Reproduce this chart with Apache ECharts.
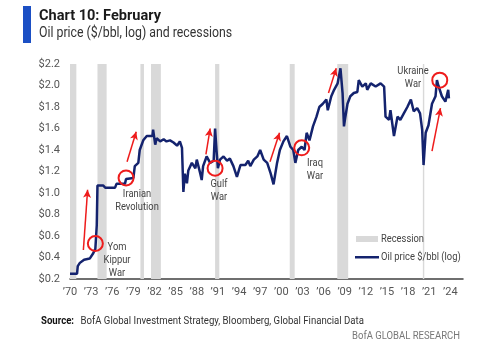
<!DOCTYPE html>
<html>
<head>
<meta charset="utf-8">
<script src="https://cdn.jsdelivr.net/npm/echarts@6/dist/echarts.min.js"></script>
<style>
  html, body { margin: 0; padding: 0; background: #fff; }
  #chart { width: 500px; height: 351px; }
</style>
</head>
<body>
<div id="chart"></div>
<script>
// base year: x axis is years since 1970 so the 3-year ticks start on min
var baseYear = 1970

// oil price (log scale value)
var priceYears = [
  1970.0, 1971.0, 1971.1, 1971.4, 1972.0, 1972.8, 1973.3, 1973.6, 1973.8, 1973.9,
  1974.7, 1975.0, 1976.4, 1976.6, 1977.8, 1977.96, 1979.0, 1979.2, 1979.7, 1979.9,
  1980.4, 1980.9, 1981.7, 1981.8, 1982.1, 1982.3, 1982.8, 1983.3, 1983.7, 1984.2,
  1984.7, 1985.2, 1985.6, 1985.9, 1986.1, 1986.3, 1986.6, 1986.8, 1987.3, 1987.8,
  1988.0, 1988.5, 1988.7, 1988.9, 1989.4, 1989.9, 1990.4, 1990.6, 1990.8, 1991.0,
  1991.3, 1991.8, 1992.3, 1992.7, 1993.2, 1993.7, 1994.2, 1994.9, 1995.3, 1995.6,
  1996.1, 1996.6, 1997.0, 1997.5, 1998.0, 1998.5, 1998.9, 1999.1, 1999.4, 1999.8,
  2000.3, 2000.8, 2001.3, 2001.7, 2002.0, 2002.4, 2002.9, 2003.3, 2003.6, 2004.0,
  2004.5, 2005.0, 2005.4, 2005.9, 2006.4, 2006.6, 2007.1, 2007.5, 2008.0, 2008.4,
  2008.7, 2008.9, 2009.1, 2009.4, 2009.8, 2010.3, 2010.8, 2011.0, 2011.5, 2012.0,
  2012.2, 2012.7, 2013.4, 2014.1, 2014.6, 2014.8, 2015.3, 2015.5, 2016.0, 2016.5,
  2016.9, 2017.4, 2017.9, 2018.4, 2018.8, 2019.3, 2019.7, 2020.0, 2020.2, 2020.5,
  2020.9, 2021.4, 2021.9, 2022.1, 2022.3, 2022.8, 2023.3, 2023.7, 2023.8
]
var priceValues = [
  0.25, 0.25, 0.32, 0.35, 0.38, 0.39, 0.44, 0.48, 0.70, 1.07,
  1.07, 1.05, 1.05, 1.085, 1.085, 1.13, 1.14, 1.25, 1.28, 1.40,
  1.49, 1.53, 1.53, 1.59, 1.45, 1.51, 1.48, 1.50, 1.48, 1.49,
  1.47, 1.44, 1.48, 1.42, 1.01, 1.18, 1.09, 1.21, 1.28, 1.23,
  1.31, 1.18, 1.12, 1.25, 1.34, 1.28, 1.30, 1.60, 1.40, 1.23,
  1.31, 1.34, 1.30, 1.32, 1.25, 1.15, 1.26, 1.26, 1.30, 1.25,
  1.31, 1.34, 1.40, 1.31, 1.28, 1.18, 1.08, 1.16, 1.28, 1.40,
  1.48, 1.53, 1.43, 1.40, 1.28, 1.40, 1.43, 1.40, 1.56, 1.49,
  1.62, 1.71, 1.80, 1.83, 1.87, 1.77, 1.90, 1.96, 2.02, 2.16,
  1.93, 1.62, 1.71, 1.83, 1.90, 1.93, 1.94, 2.05, 1.99, 2.02,
  1.96, 2.02, 1.99, 2.02, 1.99, 1.71, 1.68, 1.77, 1.53, 1.71,
  1.68, 1.74, 1.80, 1.87, 1.76, 1.79, 1.74, 1.59, 1.26, 1.56,
  1.63, 1.83, 1.90, 2.05, 2.00, 1.90, 1.85, 1.96, 1.88
]

// US recessions (start, end) in fractional years
var recessionStarts = [1970.0, 1973.9, 1980.0, 1981.5, 1990.6, 2001.2, 2007.95, 2020.1]
var recessionEnds   = [1970.9, 1975.2, 1980.5, 1982.9, 1991.2, 2001.9, 2009.5, 2020.3]

// war events: circle spot on the line
var eventYears  = [1973.6, 1977.96, 1990.6, 2002.9, 2022.5]
var eventValues = [0.53, 1.14, 1.23, 1.42, 2.05]

// red arrows: from -> to
var arrowFromYears  = [1971.9, 1978.1, 1989.3, 1998.4, 2006.7, 2021.4]
var arrowFromValues = [0.47, 1.29, 1.36, 1.29, 1.93, 1.39]
var arrowToYears    = [1972.5, 1979.4, 1989.9, 1999.75, 2007.8, 2022.6]
var arrowToValues   = [1.03, 1.57, 1.60, 1.56, 2.16, 1.79]

var yTicks = [0.2, 2.2, 0.2] // min, max, step

var fontFam = 'Roboto, "DejaVu Sans", sans-serif'
var red = '#ee1c1c'
var navy = '#14236e'
var narrow = 0.85 // squeeze Roboto toward the narrow house font

var priceData = priceYears.map(function (y, i) { return [y - baseYear, priceValues[i]] })
var recessionAreas = recessionStarts.map(function (s, i) {
  return [{ xAxis: s - baseYear }, { xAxis: recessionEnds[i] - baseYear }]
})
var eventPoints = eventYears.map(function (y, i) {
  return { coord: [y - baseYear, eventValues[i]] }
})
var arrowLines = arrowFromYears.map(function (y, i) {
  return [
    { coord: [y - baseYear, arrowFromValues[i]] },
    { coord: [arrowToYears[i] - baseYear, arrowToValues[i]] }
  ]
})

// small helper for squeezed text in the graphic layer
function txt (x, y, text, font, fill, align, sx) {
  return {
    type: 'text', x: x, y: y, scaleX: sx || narrow, z: 10,
    style: { text: text, font: font, fill: fill, align: align || 'left', verticalAlign: 'top', lineHeight: 13 }
  }
}

var chart = echarts.init(document.getElementById('chart'), null, { renderer: 'canvas' })

var option = {
  animation: false,
  backgroundColor: '#fff',
  grid: { left: 70, right: 37, top: 64, bottom: 72, containLabel: false },
  xAxis: {
    type: 'value',
    min: 0,
    max: 55.8,
    interval: 3,
    axisLine: { show: true, lineStyle: { color: '#404040', width: 1.5 } },
    axisTick: { show: false },
    splitLine: { show: false },
    axisLabel: {
      color: '#555',
      fontSize: 11,
      fontFamily: fontFam,
      margin: 8,
      formatter: function (v) {
        if (Math.abs(v % 3) > 0.001) return ''
        var yr = (baseYear + v) % 100
        return '\u2019' + (yr < 10 ? '0' + yr : yr)
      }
    }
  },
  yAxis: {
    type: 'value',
    min: yTicks[0],
    max: yTicks[1],
    interval: yTicks[2],
    axisLine: { show: false },
    axisTick: { show: false },
    splitLine: { show: false },
    axisLabel: {
      color: '#555',
      fontSize: 11,
      fontFamily: fontFam,
      margin: 10,
      formatter: function (v) { return '$' + v.toFixed(1) }
    }
  },
  series: [
    {
      name: 'Recession',
      type: 'line',
      data: [],
      silent: true,
      markArea: {
        silent: true,
        itemStyle: { color: '#d9d9d9' },
        data: recessionAreas
      }
    },
    {
      name: 'Oil price $/bbl (log)',
      type: 'line',
      data: priceData,
      showSymbol: false,
      lineStyle: { color: navy, width: 2.5 },
      itemStyle: { color: navy },
      z: 3,
      markPoint: {
        silent: true,
        symbol: 'circle',
        symbolSize: 15,
        itemStyle: { color: 'rgba(0,0,0,0)', borderColor: red, borderWidth: 2 },
        label: { show: false },
        data: eventPoints
      },
      markLine: {
        silent: true,
        symbol: ['none', 'arrow'],
        symbolSize: [6, 8],
        lineStyle: { color: red, width: 1.5, type: 'solid' },
        label: { show: false },
        data: arrowLines
      }
    }
  ],
  graphic: [
    // title block
    { type: 'rect', left: 23, top: 6, shape: { width: 8, height: 37 }, style: { fill: '#1b4fc4' } },
    txt(39, 10, 'Chart 10: February', 'bold 15px ' + fontFam, '#1a1a1a', 'left', 0.97),
    txt(39, 27, 'Oil price ($/bbl, log) and recessions', '15px ' + fontFam, '#333', 'left', 0.82),

    // annotations
    txt(117, 241, 'Yom\nKippur\nWar', '11px ' + fontFam, '#444', 'center'),
    txt(137, 188, 'Iranian\nRevolution', '11px ' + fontFam, '#444', 'center'),
    txt(219, 178, 'Gulf\nWar', '11px ' + fontFam, '#444', 'center'),
    txt(315, 157, 'Iraq\nWar', '11px ' + fontFam, '#444', 'center'),
    txt(413, 65, 'Ukraine\nWar', '11px ' + fontFam, '#444', 'center'),

    // legend
    { type: 'rect', left: 356, top: 236, shape: { width: 22, height: 6 }, style: { fill: '#d9d9d9' } },
    txt(381, 233, 'Recession', '11px ' + fontFam, '#444'),
    { type: 'rect', left: 355, top: 256, shape: { width: 24, height: 2.5 }, style: { fill: navy } },
    txt(381, 251, 'Oil price $/bbl (log)', '11px ' + fontFam, '#444'),

    // footer
    {
      type: 'text', x: 41, y: 315, scaleX: 0.96,
      style: {
        text: '{b|Source:}  {n|BofA Global Investment Strategy, Bloomberg, Global Financial Data}',
        verticalAlign: 'top',
        rich: {
          b: { font: 'bold 10px ' + fontFam, fill: '#111' },
          n: { font: '10px ' + fontFam, fill: '#333' }
        }
      }
    },
    txt(460, 330, 'BofA GLOBAL RESEARCH', '10px ' + fontFam, '#777', 'right', 0.95)
  ]
}

chart.setOption(option)
</script>
</body>
</html>
